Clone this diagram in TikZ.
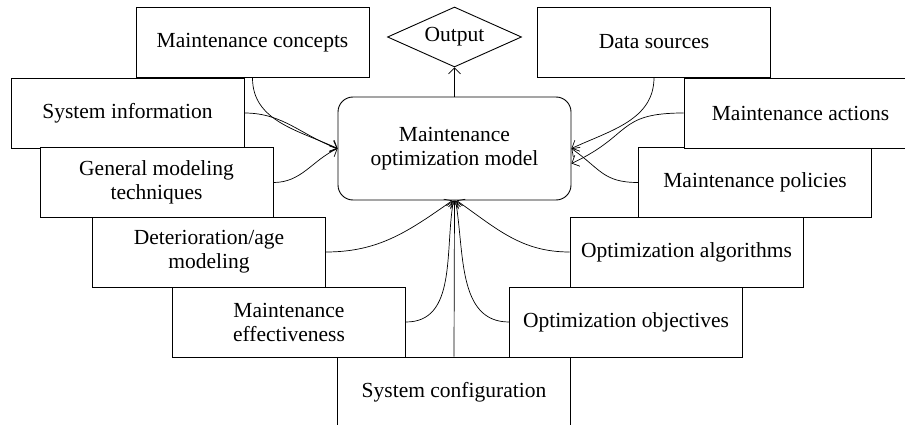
\documentclass[tikz,border=0pt]{standalone}
\usepackage{fontspec}
\setmainfont{Liberation Serif}
\usetikzlibrary{shapes.geometric,arrows.meta}
\begin{document}
\begin{tikzpicture}[x=1pt,y=-1pt,
  box/.style={draw, line width=0.9pt, fill=white, minimum width=233pt, minimum height=70pt, inner sep=0pt, align=center, font=\fontsize{21.5}{24}\selectfont},
  conn/.style={line width=0.7pt, -{Straight Barb[length=6pt,width=12pt]}}]
\clip (0,0) rectangle (905,425);
\fill[white] (0,0) rectangle (905,425);
% boxes
\node[box] (mc) at (252.5,42.5) {Maintenance concepts};
\node[box] (si) at (127.5,113) {System information};
\node[box] (gm) at (156.5,182.5) {General modeling\\techniques};
\node[box] (da) at (209,252) {Deterioration/age\\modeling};
\node[box] (me) at (289,322) {Maintenance\\effectiveness};
\node[box] (sc) at (454,392) {System configuration};
\node[box] (oo) at (626,322) {Optimization objectives};
\node[box] (oa) at (686.5,252) {Optimization algorithms};
\node[box] (mp) at (755,182.5) {Maintenance policies};
\node[box] (ma) at (800.5,113) {Maintenance actions};
\node[box] (ds) at (654,42) {Data sources};
\node[box, rounded corners=15pt, minimum height=103pt] (mom) at (454.5,148.5) {Maintenance\\optimization model};
\node[draw, line width=0.9pt, diamond, aspect=2.23, minimum width=134pt, minimum height=60pt, inner sep=0pt, font=\fontsize{21.5}{24}\selectfont] (out) at (454.5,37) {Output};
% connectors
\draw[conn] (mom.north) -- (out.south);
\draw[conn] (mc.south) to[out=-90, in=155] (mom.west);
\draw[conn] (si.east) to[out=0, in=160] (mom.west);
\draw[conn] (gm.east) to[out=0, in=205] (mom.west);
\draw[conn] (ds.south) to[out=-90, in=25] (mom.east);
\draw[conn] (ma.west) to[out=180, in=25, looseness=1.4] ([yshift=-15pt]mom.east);
\draw[conn] (mp.west) to[out=180, in=-35, looseness=1.2] (mom.east);
\draw[conn] (da.east) to[out=0, in=-145] ([xshift=-2pt]mom.south);
\draw[conn] (me.east) to[out=0, in=-100] ([xshift=-1pt]mom.south);
\draw[conn] (sc.north) -- (mom.south);
\draw[conn] (oo.west) to[out=180, in=-80] ([xshift=1pt]mom.south);
\draw[conn] (oa.west) to[out=180, in=-35] ([xshift=2pt]mom.south);
\end{tikzpicture}
\end{document}
